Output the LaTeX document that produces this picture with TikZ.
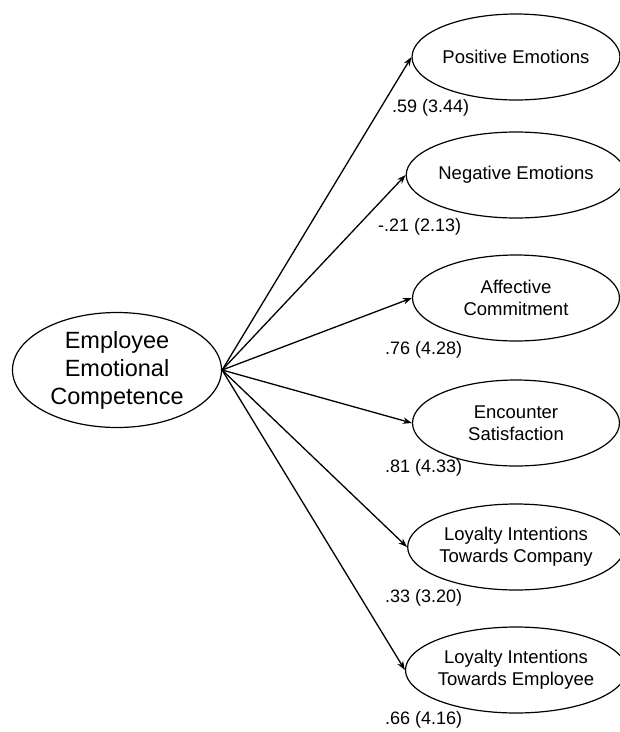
\documentclass[tikz,border=0pt]{standalone}
\usepackage{fontspec}
\setmainfont{Liberation Sans}
\usetikzlibrary{shapes.geometric,arrows.meta}
\tikzset{
  latent/.style={draw, ellipse, line width=1.2pt, inner sep=0pt, align=center},
  bigvar/.style={latent, minimum width=209pt, minimum height=115pt, font=\fontsize{23.5}{28}\selectfont},
  outvar/.style={latent, minimum width=207pt, minimum height=86pt, font=\fontsize{18.5}{22}\selectfont},
  path/.style={line width=1.3pt, -{Stealth[length=9pt,width=6.5pt]}},
  coef/.style={anchor=west, inner sep=0pt, font=\fontsize{18}{20}\selectfont}
}
\begin{document}
\begin{tikzpicture}[x=1pt,y=-1pt]
\useasboundingbox (0,0) rectangle (620,732);
\node[bigvar] (ec) at (117,370) {Employee\\Emotional\\Competence};
\node[outvar] (pe) at (516,57) {Positive Emotions};
\node[outvar] (ne) at (516,175) {Negative Emotions};
\node[outvar] (ac) at (516,298) {Affective\\Commitment};
\node[outvar] (es) at (516,423) {Encounter\\Satisfaction};
\node[outvar] (lc) at (516,547) {Loyalty Intentions\\Towards Company};
\node[outvar] (le) at (516,670) {Loyalty Intentions\\Towards Employee};
\foreach \t in {pe,ne,ac,es,lc,le}{
  \draw[path] (ec.east) -- (\t.west);
}
\node[coef] (c1) at (392,108) {.59 (3.44)};
\node[coef] (c2) at (378,227) {-.21 (2.13)};
\node[coef] (c3) at (385,350) {.76 (4.28)};
\node[coef] (c4) at (385,468) {.81 (4.33)};
\node[coef] (c5) at (385,598) {.33 (3.20)};
\node[coef] (c6) at (385,720) {.66 (4.16)};
\end{tikzpicture}
\end{document}
